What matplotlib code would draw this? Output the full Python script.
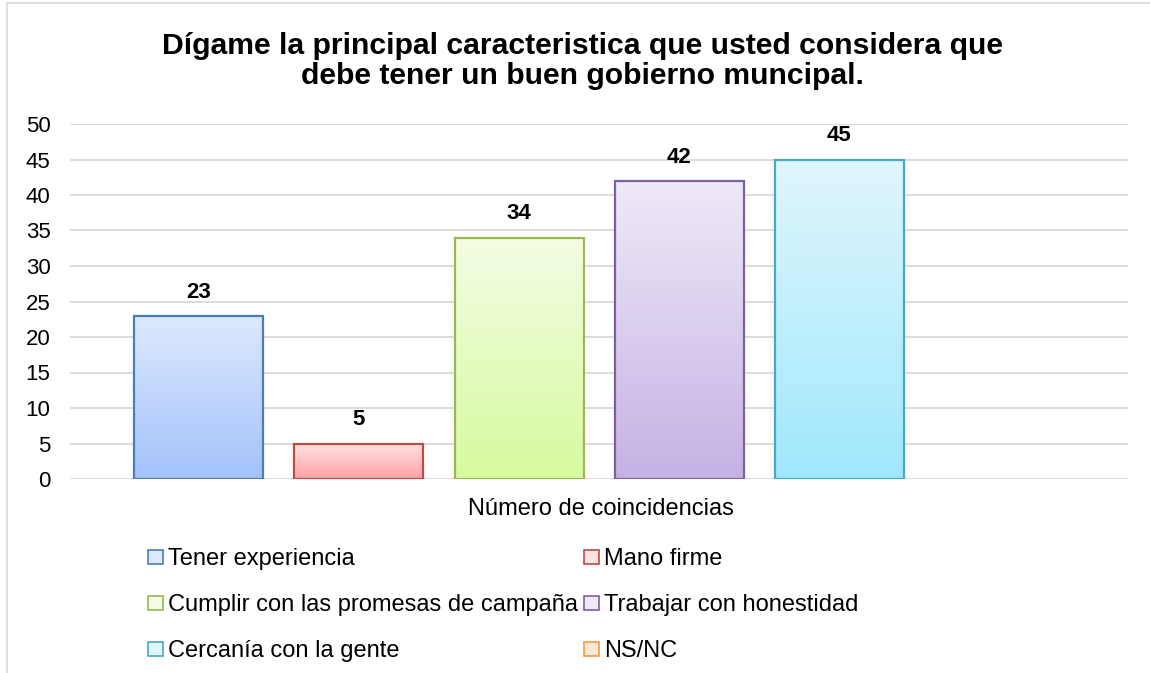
import numpy as np
import matplotlib.pyplot as plt
from matplotlib.patches import Patch
from matplotlib.colors import LinearSegmentedColormap
from matplotlib.lines import Line2D

plt.rcParams['font.family'] = ['Liberation Sans', 'DejaVu Sans']

title = 'Dígame la principal caracteristica que usted considera que\ndebe tener un buen gobierno muncipal.'
category = 'Número de coincidencias'
series = ['Tener experiencia', 'Mano firme', 'Cumplir con las promesas de campaña',
          'Trabajar con honestidad', 'Cercanía con la gente', 'NS/NC']
values = [23, 5, 34, 42, 45, 0]

# top colour, bottom colour, edge colour
tops = ['#dde9fc', '#fde2e2', '#f3fde4', '#efe9f7', '#e1f6fd', '#fde7d6']
bottoms = ['#a3c2fb', '#ffa3a3', '#d7fa9f', '#c5b2e5', '#9fe8fc', '#fbbf8f']
edges = ['#4a7ebb', '#be4b48', '#98b954', '#7d60a0', '#46aac5', '#f79646']

fig = plt.figure(figsize=(11.5, 6.73), dpi=100)
ax = fig.add_axes([70 / 1150, 1 - 479 / 673, 1058 / 1150, 355 / 673])

step = 160 / 1058
width = 129 / 1058
n = len(series)
xs = [(i - (n - 1) / 2) * step for i in range(n)]

grad = np.linspace(0, 1, 256).reshape(-1, 1)
for i, (x, v) in enumerate(zip(xs, values)):
    bar = ax.bar(x, v, width=width, facecolor='none',
                 edgecolor=edges[i] if v > 0 else 'none', linewidth=1.6, zorder=3)[0]
    if v > 0:
        cmap = LinearSegmentedColormap.from_list('g%d' % i, [bottoms[i], tops[i]])
        x0, y0 = bar.get_x(), bar.get_y()
        ax.imshow(grad, cmap=cmap, origin='lower', aspect='auto', zorder=2,
                  extent=(x0, x0 + bar.get_width(), y0, y0 + bar.get_height()))
        ax.annotate(str(v), (x, v), xytext=(0, 9.5), textcoords='offset points',
                    ha='center', va='bottom', fontsize=16, fontweight='bold')

ax.set_xlim(-0.5, 0.5)
ax.set_ylim(0, 50)
ax.set_yticks(range(0, 51, 5))
ax.set_xticks([])
ax.yaxis.grid(True, color='#d9d9d9', linewidth=1.3)
ax.set_axisbelow(True)
for s in ax.spines.values():
    s.set_visible(False)
ax.tick_params(axis='y', length=0, pad=14, labelsize=16)

fig.text(601 / 1150, 1 - 509 / 673, category, ha='center', va='center', fontsize=17)
fig.text(582 / 1150, 1 - 61 / 673, title, ha='center', va='center', fontsize=21.7,
         fontweight='bold', linespacing=1.05)

handles = [Patch(facecolor=tops[i], edgecolor=edges[i], linewidth=1.2, label=series[i])
           for i in range(n)]
order = [0, 2, 4, 1, 3, 5]
fig.legend([handles[i] for i in order], [series[i] for i in order], ncol=2,
           loc='upper left', bbox_to_anchor=(148 / 1150, 1 - 548 / 673), frameon=False,
           fontsize=17, handlelength=0.65, handleheight=0.55, handletextpad=0.2,
           columnspacing=0.25, labelspacing=1.02, borderaxespad=0, borderpad=0)

# chart border
fig.add_artist(Line2D([7 / 1150, 7 / 1150], [0, 1 - 3 / 673], color='#d9d9d9', linewidth=1.2))
fig.add_artist(Line2D([7 / 1150, 1], [1 - 3 / 673, 1 - 3 / 673], color='#d9d9d9', linewidth=1.2))

fig.savefig('out.png', dpi=100)
